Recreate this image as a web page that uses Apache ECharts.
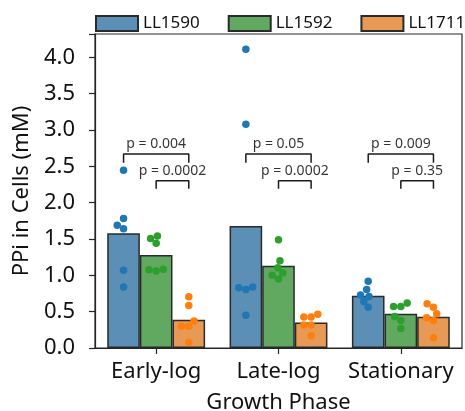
<!DOCTYPE html>
<html>
<head>
<meta charset="utf-8">
<script src="https://cdn.jsdelivr.net/npm/echarts@6/dist/echarts.min.js"></script>
<style>
  html, body { margin: 0; padding: 0; background: #fff; }
  #chart { width: 465px; height: 411px; }
</style>
</head>
<body>
<div id="chart"></div>
<script>
// growth phases and strains
const categories = ['Early-log', 'Late-log', 'Stationary'];
const strains = ['LL1590', 'LL1592', 'LL1711'];

// bar heights (mean PPi, mM)
const meanLL1590 = [1.58, 1.68, 0.72];
const meanLL1592 = [1.28, 1.13, 0.47];
const meanLL1711 = [0.39, 0.35, 0.43];

// individual replicates per phase
const ptsLL1590 = [
  [2.445, 1.69, 1.78, 1.64, 1.07, 0.84],
  [4.11, 3.08, 0.83, 0.805, 0.84, 0.45],
  [0.92, 0.805, 0.73, 0.71, 0.64, 0.56]
];
const ptsLL1592 = [
  [1.505, 1.54, 1.44, 1.075, 1.06, 1.085],
  [1.49, 1.20, 1.104, 1.0, 1.031, 0.95],
  [0.57, 0.57, 0.62, 0.435, 0.38, 0.27]
];
const ptsLL1711 = [
  [0.705, 0.585, 0.37, 0.30, 0.30, 0.077],
  [0.425, 0.425, 0.465, 0.315, 0.315, 0.17],
  [0.61, 0.56, 0.47, 0.415, 0.38, 0.14]
];

// significance annotations
const pLong = ['p = 0.004', 'p = 0.05', 'p = 0.009'];   // LL1590 vs LL1711
const pShort = ['p = 0.0002', 'p = 0.0002', 'p = 0.35']; // LL1592 vs LL1711
const bracketLongY = [2.55, 2.67];   // leg end, top
const bracketShortY = [2.19, 2.30];

const yTicks = [0, 0.5, 1, 1.5, 2, 2.5, 3, 3.5, 4];

const W = 465, H = 411;
const gridL = 95, gridR = 3, gridT = 34, gridB = 63;
const yMax = 4.32;
const pxX = (W - gridL - gridR) / 3;     // px per category
const pxY = (H - gridT - gridB) / yMax;  // px per mM

const barColors = ['#5b8fb5', '#61a861', '#e79a56'];
const dotColors = ['#1f77b4', '#2ca02c', '#ff7f0e'];
const barOff = [-0.8 / 3, 0, 0.8 / 3];
const FONT = 'Noto Sans';

// simple beeswarm: returns horizontal pixel offsets
function swarm(vals, d) {
  const order = vals.map((v, i) => i).sort((a, b) => vals[a] - vals[b]);
  const placed = [];
  const xs = [];
  order.forEach(i => {
    const y = vals[i] * pxY;
    const cands = [0];
    placed.forEach(p => {
      const dy = Math.abs(p.y - y);
      if (dy < d) {
        const dx = Math.sqrt(d * d - dy * dy);
        cands.push(p.x - dx, p.x + dx);
      }
    });
    cands.sort((a, b) => Math.abs(a) - Math.abs(b));
    const x = cands.find(c => placed.every(p => (p.x - c) ** 2 + (p.y - y) ** 2 >= d * d - 1e-6));
    xs[i] = x;
    placed.push({ x: x, y: y });
  });
  return xs;
}

const chart = echarts.init(document.getElementById('chart'));

const means = [meanLL1590, meanLL1592, meanLL1711];
const pts = [ptsLL1590, ptsLL1592, ptsLL1711];

const series = [];
strains.forEach((s, k) => {
  series.push({
    name: s,
    type: 'bar',
    data: means[k],
    barGap: '0%',
    barCategoryGap: '20%',
    itemStyle: { color: barColors[k], borderColor: '#2a2a2a', borderWidth: 1.5 },
    z: 2
  });
});

strains.forEach((s, k) => {
  const data = [];
  pts[k].forEach((vals, c) => {
    const offs = swarm(vals, 7.3);
    vals.forEach((v, i) => {
      data.push([c + 0.5 + barOff[k] + offs[i] / pxX, v]);
    });
  });
  series.push({
    type: 'scatter',
    xAxisIndex: 1,
    data: data,
    symbolSize: 7.5,
    itemStyle: { color: dotColors[k], opacity: 1 },
    silent: true,
    z: 5
  });
});

function bracket(x1, x2, yy, text) {
  series.push({
    type: 'line',
    xAxisIndex: 1,
    data: [[x1, yy[0]], [x1, yy[1]], [x2, yy[1]], [x2, yy[0]]],
    symbol: 'none',
    lineStyle: { color: '#1a1a1a', width: 1.5 },
    silent: true,
    z: 6
  });
  series.push({
    type: 'scatter',
    xAxisIndex: 1,
    data: [[(x1 + x2) / 2, yy[1]]],
    symbolSize: 0,
    label: {
      show: true,
      position: 'top',
      distance: 3,
      formatter: text,
      fontFamily: FONT,
      fontSize: 14,
      color: '#000'
    },
    silent: true,
    z: 6
  });
}

categories.forEach((c, i) => {
  bracket(i + 0.5 + barOff[0], i + 0.5 + barOff[2], bracketLongY, pLong[i]);
  bracket(i + 0.5 + barOff[1], i + 0.5 + barOff[2], bracketShortY, pShort[i]);
});

const option = {
  animation: false,
  textStyle: { fontFamily: FONT },
  legend: {
    data: strains,
    orient: 'horizontal',
    left: gridL,
    top: 15,
    width: 500,
    padding: 0,
    itemWidth: 42,
    itemHeight: 15,
    itemGap: 28,
    icon: 'rect',
    selectedMode: false,
    textStyle: { fontFamily: FONT, fontSize: 17, color: '#111' }
  },
  grid: {
    left: gridL, right: gridR, top: gridT, bottom: gridB,
    outerBoundsMode: 'none',
    containLabel: false,
    show: true, borderColor: '#262626', borderWidth: 1.2,
    backgroundColor: 'transparent'
  },
  xAxis: [{
    type: 'category',
    data: categories,
    name: 'Growth Phase',
    nameLocation: 'middle',
    nameGap: 44,
    nameTextStyle: { fontFamily: FONT, fontSize: 22, color: '#111' },
    axisLine: { lineStyle: { color: '#262626', width: 1.2 } },
    axisTick: { show: true, alignWithLabel: true, length: 6, lineStyle: { color: '#262626', width: 1.2 } },
    axisLabel: { fontFamily: FONT, fontSize: 22, color: '#111', margin: 13, interval: 0 }
  }, {
    type: 'value',
    min: 0,
    max: 3,
    show: false
  }],
  yAxis: {
    type: 'value',
    min: 0,
    max: yMax,
    interval: 0.5,
    name: 'PPi in Cells (mM)',
    nameLocation: 'middle',
    nameGap: 61,
    nameTextStyle: { fontFamily: FONT, fontSize: 22, color: '#111' },
    axisLine: { show: true, lineStyle: { color: '#262626', width: 1.2 } },
    axisTick: { show: true, length: 6, lineStyle: { color: '#262626', width: 1.2 } },
    splitLine: { show: false },
    axisLabel: {
      fontFamily: FONT, fontSize: 22, color: '#111', margin: 20,
      formatter: v => (yTicks.indexOf(v) >= 0 ? v.toFixed(1) : '')
    }
  },
  series: series
};

chart.setOption(option);
</script>
</body>
</html>
